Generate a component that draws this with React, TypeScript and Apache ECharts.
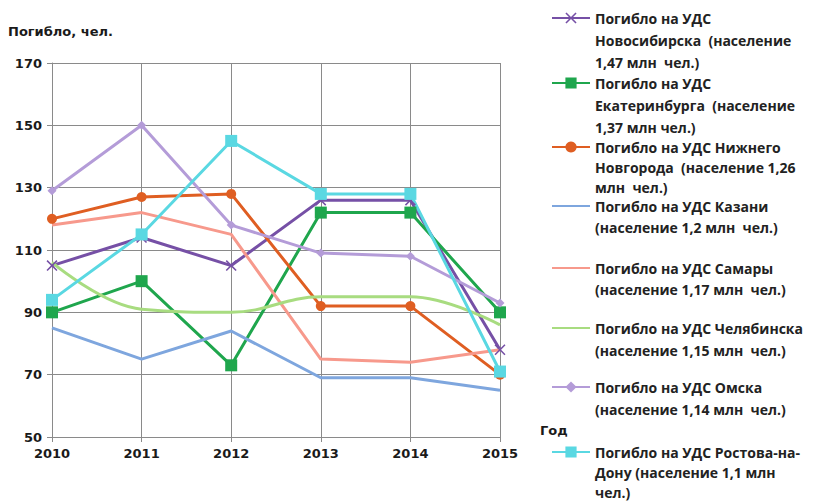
import React, { useEffect, useRef } from "react";
import * as echarts from "echarts";

const years = ["2010", "2011", "2012", "2013", "2014", "2015"];
const yMin = 50;
const yMax = 170;
const yStep = 20;

const novosibirsk = [105, 114, 105, 126, 126, 78];
const ekaterinburg = [90, 100, 73, 122, 122, 90];
const nizhny = [120, 127, 128, 92, 92, 70];
const kazan = [85, 75, 84, 69, 69, 65];
const samara = [118, 122, 115, 75, 74, 78];
const chelyabinsk = [106, 91, 90, 95, 95, 86];
const omsk = [129, 150, 118, 109, 108, 93];
const rostov = [94, 115, 145, 128, 128, 71];

const names = [
  "Погибло на УДС\nНовосибирска  (население\n1,47 млн  чел.)",
  "Погибло на УДС\nЕкатеринбурга  (население\n1,37 млн чел.)",
  "Погибло на УДС Нижнего\nНовгорода  (население 1,26\nмлн  чел.)",
  "Погибло на УДС Казани\n(население 1,2 млн  чел.)",
  "Погибло на УДС Самары\n(население 1,17 млн  чел.)",
  "Погибло на УДС Челябинска\n(население 1,15 млн  чел.)",
  "Погибло на УДС Омска\n(население 1,14 млн  чел.)",
  "Погибло на УДС Ростова-на-\nДону (население 1,1 млн\nчел.)",
];

const yAxisTitle = "Погибло, чел.";
const xAxisTitle = "Год";

const AXIS_FONT = "'DejaVu Sans', sans-serif";
const LEGEND_FONT = "'Open Sans', 'Noto Sans', sans-serif";

export default function App() {
  const ref = useRef<HTMLDivElement>(null);

  useEffect(() => {
    if (!ref.current) return;
    const chart = echarts.init(ref.current, null, { renderer: "svg" });

    const crossPath =
      "path://M0,1L1,0L5,4L9,0L10,1L6,5L10,9L9,10L5,6L1,10L0,9L4,5Z";

    const defs = [
      { data: novosibirsk, color: "#7650a6", symbol: crossPath, size: 11, smooth: false },
      { data: ekaterinburg, color: "#1fa64d", symbol: "rect", size: 12, smooth: false },
      { data: nizhny, color: "#df5e22", symbol: "circle", size: 10, smooth: false },
      { data: kazan, color: "#7ea6de", symbol: "none", size: 0, smooth: false },
      { data: samara, color: "#f7998c", symbol: "none", size: 0, smooth: false },
      { data: chelyabinsk, color: "#a8dc80", symbol: "none", size: 0, smooth: true },
      { data: omsk, color: "#b49cd8", symbol: "diamond", size: 9, smooth: false },
      { data: rostov, color: "#5ad8e2", symbol: "rect", size: 12, smooth: false },
    ];

    // centre of the first text line of each legend entry
    const legendFirstLine = [18, 83, 147, 206, 268, 328, 387, 452];
    const legendLineHeight = [22, 22, 20, 21, 21, 22, 22, 20];

    const series = defs.map((d, i) => ({
      name: names[i],
      type: "line",
      data: d.data,
      symbol: d.symbol,
      symbolSize: d.size,
      showSymbol: d.symbol !== "none",
      smooth: d.smooth ? 0.4 : false,
      lineStyle: { color: d.color, width: 3 },
      itemStyle: { color: d.color },
      emphasis: { disabled: true },
    }));

    const legends = names.map((n, i) => {
      const lines = n.split("\n").length;
      const lh = legendLineHeight[i];
      const total = 2 * lines - 1;
      const noMarker = defs[i].symbol === "none";
      return {
        data: [
          noMarker
            ? { name: n, itemStyle: { color: "rgba(0,0,0,0)", borderWidth: 0, opacity: 0 } }
            : { name: n },
        ],
        left: 551,
        top: legendFirstLine[i] - (total * lh) / 2,
        orient: "vertical",
        itemWidth: 38,
        itemHeight: 14,
        itemGap: 0,
        padding: 0,
        selectedMode: false,
        formatter: (name: string) => "\n".repeat(lines - 1) + name,
        textStyle: {
          fontFamily: LEGEND_FONT,
          fontSize: 14,
          fontWeight: "bold",
          color: "#222",
          lineHeight: lh,
        },
      };
    });

    chart.setOption({
      animation: false,
      backgroundColor: "#ffffff",
      grid: { left: 52, right: 316, top: 63, bottom: 65, containLabel: false },
      xAxis: {
        type: "category",
        data: years,
        boundaryGap: false,
        axisLine: { show: true, lineStyle: { color: "#8a8a8a", width: 1 } },
        axisTick: { show: true, length: 5, lineStyle: { color: "#8a8a8a" } },
        splitLine: { show: true, lineStyle: { color: "#8a8a8a", width: 1 } },
        axisLabel: {
          margin: 10,
          fontFamily: AXIS_FONT,
          fontSize: 13,
          fontWeight: "bold",
          color: "#1a1a1a",
        },
      },
      yAxis: {
        type: "value",
        min: yMin,
        max: yMax,
        interval: yStep,
        axisLine: { show: true, lineStyle: { color: "#8a8a8a", width: 1 } },
        axisTick: { show: true, length: 5, lineStyle: { color: "#8a8a8a" } },
        splitLine: { show: true, lineStyle: { color: "#8a8a8a", width: 1 } },
        axisLabel: {
          margin: 10,
          fontFamily: AXIS_FONT,
          fontSize: 13,
          fontWeight: "bold",
          color: "#1a1a1a",
        },
      },
      legend: legends,
      graphic: [
        {
          type: "text",
          left: 8,
          top: 25,
          style: {
            text: yAxisTitle,
            fontFamily: AXIS_FONT,
            fontSize: 13,
            fontWeight: "bold",
            fill: "#1a1a1a",
          },
        },
        {
          type: "text",
          left: 540,
          top: 424,
          style: {
            text: xAxisTitle,
            fontFamily: AXIS_FONT,
            fontSize: 13,
            fontWeight: "bold",
            fill: "#1a1a1a",
          },
        },
      ],
      series,
    });

    return () => chart.dispose();
  }, []);

  return (
    <div
      ref={ref}
      style={{ position: "absolute", left: 0, top: 0, width: 816, height: 502 }}
    />
  );
}
